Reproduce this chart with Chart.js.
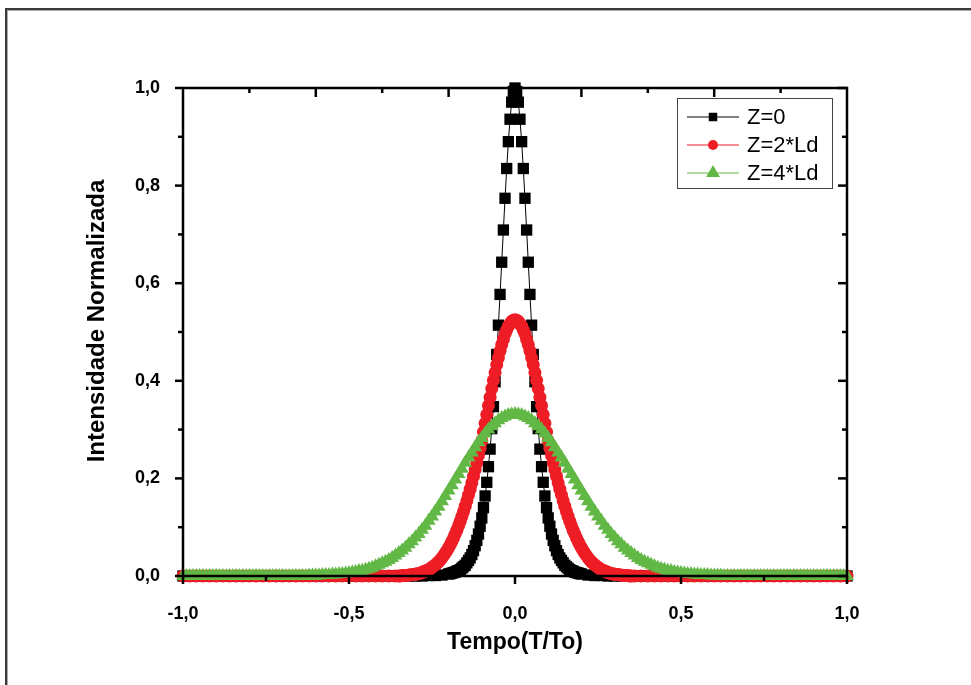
<!DOCTYPE html>
<html lang="pt">
<head>
  <meta charset="UTF-8">
  <title>Alargamento do pulso</title>
  <script src="https://cdn.jsdelivr.net/npm/chart.js"></script>
  <style>
    body { margin: 0; background: #fff; overflow: hidden; }
    #quadro { position: relative; width: 971px; height: 685px; }
    #moldura { position: absolute; left: 5px; top: 8px; width: 1000px; height: 700px;
               border-left: 2px solid #3a3a3a; border-top: 2px solid #3a3a3a;
               box-shadow: inset 1px 1px 0 #aaa; pointer-events: none; }
    canvas { position: absolute; left: 0; top: 0; }
  </style>
</head>
<body>
  <div id="quadro">
    <canvas id="grafico" width="971" height="685"></canvas>
    <div id="moldura"></div>
  </div>

  <script>
    // Z = 0 (pulso de entrada)
    const tempoZ0 = [
      -1.00,-0.98,-0.96,-0.94,-0.92,-0.90,-0.88,-0.86,-0.84,-0.82,
      -0.80,-0.78,-0.76,-0.74,-0.72,-0.70,-0.68,-0.66,-0.64,-0.62,
      -0.60,-0.58,-0.56,-0.54,-0.52,-0.50,-0.48,-0.46,-0.44,-0.42,
      -0.40,-0.38,-0.36,-0.34,-0.32,-0.30,-0.28,-0.26,-0.24,-0.22,
      -0.200,-0.195,-0.190,-0.185,-0.180,-0.175,-0.170,-0.165,-0.160,-0.155,
      -0.150,-0.145,-0.140,-0.135,-0.130,-0.125,-0.120,-0.115,-0.110,-0.105,
      -0.100,-0.095,-0.090,-0.085,-0.080,-0.075,-0.070,-0.065,-0.060,-0.055,
      -0.050,-0.045,-0.040,-0.035,-0.030,-0.025,-0.020,-0.015,-0.010,-0.005,
      0,
      0.005,0.010,0.015,0.020,0.025,0.030,0.035,0.040,0.045,0.050,
      0.055,0.060,0.065,0.070,0.075,0.080,0.085,0.090,0.095,0.100,
      0.105,0.110,0.115,0.120,0.125,0.130,0.135,0.140,0.145,0.150,
      0.155,0.160,0.165,0.170,0.175,0.180,0.185,0.190,0.195,0.200,
      0.22,0.24,0.26,0.28,0.30,0.32,0.34,0.36,0.38,0.40,
      0.42,0.44,0.46,0.48,0.50,0.52,0.54,0.56,0.58,0.60,
      0.62,0.64,0.66,0.68,0.70,0.72,0.74,0.76,0.78,0.80,
      0.82,0.84,0.86,0.88,0.90,0.92,0.94,0.96,0.98,1.00
    ];
    const intensZ0 = [
      0,0,0,0,0,0,0,0,0,0,
      0,0,0,0,0,0,0,0,0,0,
      0,0,0,0,0,0,0,0,0,0,
      0,0,0,0,0,0,0,0.001,0.001,0.002,
      0.004,0.005,0.006,0.007,0.008,0.010,0.011,0.013,0.016,0.019,
      0.022,0.027,0.032,0.037,0.044,0.052,0.062,0.073,0.086,0.102,
      0.119,0.140,0.164,0.192,0.224,0.260,0.302,0.347,0.398,0.454,
      0.514,0.577,0.643,0.709,0.774,0.835,0.890,0.936,0.971,0.993,
      1.000,
      0.993,0.971,0.936,0.890,0.835,0.774,0.709,0.643,0.577,0.514,
      0.454,0.398,0.347,0.302,0.260,0.224,0.192,0.164,0.140,0.119,
      0.102,0.086,0.073,0.062,0.052,0.044,0.037,0.032,0.027,0.022,
      0.019,0.016,0.013,0.011,0.010,0.008,0.007,0.006,0.005,0.004,
      0.002,0.001,0.001,0,0,0,0,0,0,0,
      0,0,0,0,0,0,0,0,0,0,
      0,0,0,0,0,0,0,0,0,0,
      0,0,0,0,0,0,0,0,0,0
    ];

    // Z = 2*Ld
    const tempoZ2 = [
      -1.00,-0.98,-0.96,-0.94,-0.92,-0.90,-0.88,-0.86,-0.84,-0.82,
      -0.80,-0.78,-0.76,-0.74,-0.72,-0.70,-0.68,-0.66,-0.64,-0.62,
      -0.60,-0.58,-0.56,-0.54,-0.52,-0.50,-0.48,-0.46,-0.44,-0.42,
      -0.40,-0.38,-0.36,
      -0.350,-0.345,-0.340,-0.335,-0.330,-0.325,-0.320,-0.315,-0.310,-0.305,
      -0.300,-0.295,-0.290,-0.285,-0.280,-0.275,-0.270,-0.265,-0.260,-0.255,
      -0.250,-0.245,-0.240,-0.235,-0.230,-0.225,-0.220,-0.215,-0.210,-0.205,
      -0.200,-0.195,-0.190,-0.185,-0.180,-0.175,-0.170,-0.165,-0.160,-0.155,
      -0.150,-0.145,-0.140,-0.135,-0.130,-0.125,-0.120,-0.115,-0.110,-0.105,
      -0.100,-0.095,-0.090,-0.085,-0.080,-0.075,-0.070,-0.065,-0.060,-0.055,
      -0.050,-0.045,-0.040,-0.035,-0.030,-0.025,-0.020,-0.015,-0.010,-0.005,
      0,
      0.005,0.010,0.015,0.020,0.025,0.030,0.035,0.040,0.045,0.050,
      0.055,0.060,0.065,0.070,0.075,0.080,0.085,0.090,0.095,0.100,
      0.105,0.110,0.115,0.120,0.125,0.130,0.135,0.140,0.145,0.150,
      0.155,0.160,0.165,0.170,0.175,0.180,0.185,0.190,0.195,0.200,
      0.205,0.210,0.215,0.220,0.225,0.230,0.235,0.240,0.245,0.250,
      0.255,0.260,0.265,0.270,0.275,0.280,0.285,0.290,0.295,0.300,
      0.305,0.310,0.315,0.320,0.325,0.330,0.335,0.340,0.345,0.350,
      0.36,0.38,0.40,
      0.42,0.44,0.46,0.48,0.50,0.52,0.54,0.56,0.58,0.60,
      0.62,0.64,0.66,0.68,0.70,0.72,0.74,0.76,0.78,0.80,
      0.82,0.84,0.86,0.88,0.90,0.92,0.94,0.96,0.98,1.00
    ];
    const intensZ2 = [
      0,0,0,0,0,0,0,0,0,0,
      0,0,0,0,0,0,0,0,0,0,
      0,0,0,0,0,0,0,0,0,0,
      0,0,0,
      0,0,0.001,0.001,0.001,0.001,0.002,0.002,0.003,0.003,
      0.004,0.004,0.005,0.006,0.007,0.009,0.010,0.012,0.013,0.015,
      0.018,0.020,0.023,0.026,0.029,0.033,0.037,0.042,0.047,0.052,
      0.058,0.064,0.071,0.078,0.086,0.094,0.103,0.112,0.122,0.132,
      0.143,0.154,0.166,0.178,0.191,0.204,0.218,0.232,0.247,0.262,
      0.277,0.295,0.313,0.331,0.349,0.366,0.384,0.401,0.417,0.433,
      0.447,0.461,0.474,0.485,0.496,0.504,0.512,0.517,0.522,0.524,
      0.525,
      0.524,0.522,0.517,0.512,0.504,0.496,0.485,0.474,0.461,0.447,
      0.433,0.417,0.401,0.384,0.366,0.349,0.331,0.313,0.295,0.277,
      0.262,0.247,0.232,0.218,0.204,0.191,0.178,0.166,0.154,0.143,
      0.132,0.122,0.112,0.103,0.094,0.086,0.078,0.071,0.064,0.058,
      0.052,0.047,0.042,0.037,0.033,0.029,0.026,0.023,0.020,0.018,
      0.015,0.013,0.012,0.010,0.009,0.007,0.006,0.005,0.004,0.004,
      0.003,0.003,0.002,0.002,0.001,0.001,0.001,0.001,0,0,
      0,0,0,
      0,0,0,0,0,0,0,0,0,0,
      0,0,0,0,0,0,0,0,0,0,
      0,0,0,0,0,0,0,0,0,0
    ];

    // Z = 4*Ld
    const tempoZ4 = [
      -1.00,-0.99,-0.98,-0.97,-0.96,-0.95,-0.94,-0.93,-0.92,-0.91,
      -0.90,-0.89,-0.88,-0.87,-0.86,-0.85,-0.84,-0.83,-0.82,-0.81,
      -0.80,-0.79,-0.78,-0.77,-0.76,-0.75,-0.74,-0.73,-0.72,-0.71,
      -0.70,-0.69,-0.68,-0.67,-0.66,-0.65,-0.64,-0.63,-0.62,-0.61,
      -0.60,-0.59,-0.58,-0.57,-0.56,-0.55,-0.54,-0.53,-0.52,-0.51,
      -0.50,-0.49,-0.48,-0.47,-0.46,-0.45,-0.44,-0.43,-0.42,-0.41,
      -0.40,-0.39,-0.38,-0.37,-0.36,-0.35,-0.34,-0.33,-0.32,-0.31,
      -0.30,-0.29,-0.28,-0.27,-0.26,-0.25,-0.24,-0.23,-0.22,-0.21,
      -0.20,-0.19,-0.18,-0.17,-0.16,-0.15,-0.14,-0.13,-0.12,-0.11,
      -0.10,-0.09,-0.08,-0.07,-0.06,-0.05,-0.04,-0.03,-0.02,-0.01,
      0,
      0.01,0.02,0.03,0.04,0.05,0.06,0.07,0.08,0.09,0.10,
      0.11,0.12,0.13,0.14,0.15,0.16,0.17,0.18,0.19,0.20,
      0.21,0.22,0.23,0.24,0.25,0.26,0.27,0.28,0.29,0.30,
      0.31,0.32,0.33,0.34,0.35,0.36,0.37,0.38,0.39,0.40,
      0.41,0.42,0.43,0.44,0.45,0.46,0.47,0.48,0.49,0.50,
      0.51,0.52,0.53,0.54,0.55,0.56,0.57,0.58,0.59,0.60,
      0.61,0.62,0.63,0.64,0.65,0.66,0.67,0.68,0.69,0.70,
      0.71,0.72,0.73,0.74,0.75,0.76,0.77,0.78,0.79,0.80,
      0.81,0.82,0.83,0.84,0.85,0.86,0.87,0.88,0.89,0.90,
      0.91,0.92,0.93,0.94,0.95,0.96,0.97,0.98,0.99,1.00
    ];
    const intensZ4 = [
      0,0,0,0,0,0,0,0,0,0,
      0,0,0,0,0,0,0,0,0,0,
      0,0,0,0,0,0,0,0,0,0,
      0,0,0,0,0,0,0,0,0.001,0.001,
      0.001,0.001,0.002,0.002,0.002,0.003,0.003,0.004,0.004,0.005,
      0.006,0.007,0.008,0.010,0.011,0.013,0.015,0.017,0.020,0.023,
      0.026,0.029,0.033,0.037,0.042,0.047,0.052,0.058,0.065,0.071,
      0.079,0.086,0.095,0.103,0.113,0.122,0.132,0.142,0.153,0.164,
      0.175,0.186,0.198,0.209,0.220,0.232,0.243,0.253,0.264,0.274,
      0.283,0.292,0.300,0.307,0.313,0.319,0.324,0.327,0.330,0.331,
      0.332,
      0.331,0.330,0.327,0.324,0.319,0.313,0.307,0.300,0.292,0.283,
      0.274,0.264,0.253,0.243,0.232,0.220,0.209,0.198,0.186,0.175,
      0.164,0.153,0.142,0.132,0.122,0.113,0.103,0.095,0.086,0.079,
      0.071,0.065,0.058,0.052,0.047,0.042,0.037,0.033,0.029,0.026,
      0.023,0.020,0.017,0.015,0.013,0.011,0.010,0.008,0.007,0.006,
      0.005,0.004,0.004,0.003,0.003,0.002,0.002,0.002,0.001,0.001,
      0.001,0.001,0,0,0,0,0,0,0,0,
      0,0,0,0,0,0,0,0,0,0,
      0,0,0,0,0,0,0,0,0,0,
      0,0,0,0,0,0,0,0,0,0
    ];

    const rotulos = ['Z=0', 'Z=2*Ld', 'Z=4*Ld'];

    // marcas dos eixos
    const marcasX = [-1, -0.5, 0, 0.5, 1];
    const marcasXMenor = [-0.75, -0.25, 0.25, 0.75];
    const marcasTopo = [-0.6, -0.2, 0.2, 0.6];
    const marcasTopoMenor = [-0.8, -0.4, 0, 0.4, 0.8];
    const marcasY = [0, 0.2, 0.4, 0.6, 0.8, 1];
    const marcasYMenor = [0.1, 0.3, 0.5, 0.7, 0.9];

    const FONTE = "'Liberation Sans', Arial, sans-serif";
    const pares = (t, v) => t.map((x, i) => ({ x: x, y: v[i] }));
    const virgula = v => Number(v).toFixed(1).replace('.', ',');

    // caixa, marcas, titulos e legenda no estilo do Origin
    const estiloOrigin = {
      id: 'estiloOrigin',
      afterDatasetsDraw(chart) {
        const { ctx, chartArea: a, scales: { x, y } } = chart;
        ctx.save();
        ctx.strokeStyle = '#000';
        ctx.lineWidth = 2.5;
        ctx.strokeRect(a.left, a.top, a.right - a.left, a.bottom - a.top);
        const risco = (px, py, dx, dy) => {
          ctx.beginPath(); ctx.moveTo(px, py); ctx.lineTo(px + dx, py + dy); ctx.stroke();
        };
        marcasX.forEach(v => risco(x.getPixelForValue(v), a.bottom, 0, 8));
        marcasXMenor.forEach(v => risco(x.getPixelForValue(v), a.bottom, 0, 5));
        marcasTopo.forEach(v => risco(x.getPixelForValue(v), a.top, 0, 9));
        marcasTopoMenor.forEach(v => risco(x.getPixelForValue(v), a.top, 0, 5));
        marcasY.forEach(v => risco(a.left, y.getPixelForValue(v), -8, 0));
        marcasYMenor.forEach(v => risco(a.left, y.getPixelForValue(v), -5, 0));
        marcasY.forEach(v => risco(a.right, y.getPixelForValue(v), -9, 0));
        marcasYMenor.forEach(v => risco(a.right, y.getPixelForValue(v), -5, 0));
        ctx.restore();
      },
      afterDraw(chart) {
        const { ctx, chartArea: a } = chart;
        ctx.save();
        ctx.fillStyle = '#000';
        ctx.textAlign = 'center';
        ctx.textBaseline = 'middle';
        ctx.font = 'bold 23px ' + FONTE;
        ctx.fillText('Tempo(T/To)', (a.left + a.right) / 2, 643);
        ctx.font = 'bold 24px ' + FONTE;
        ctx.translate(97, (a.top + a.bottom) / 2 - 11);
        ctx.rotate(-Math.PI / 2);
        ctx.fillText('Intensidade Normalizada', 0, 0);
        ctx.restore();

        // legenda
        const bx = a.right - 170, by = a.top + 10, bw = 155, bh = 90;
        ctx.save();
        ctx.fillStyle = '#fff';
        ctx.fillRect(bx, by, bw, bh);
        ctx.strokeStyle = '#444';
        ctx.lineWidth = 1;
        ctx.strokeRect(bx + 0.5, by + 0.5, bw, bh);
        ctx.font = '22px ' + FONTE;
        ctx.textAlign = 'left';
        ctx.textBaseline = 'middle';
        chart.data.datasets.forEach((ds, i) => {
          const ly = by + 19 + i * 28;
          ctx.strokeStyle = ds.borderColor;
          ctx.lineWidth = 1;
          ctx.beginPath(); ctx.moveTo(bx + 10, ly); ctx.lineTo(bx + 62, ly); ctx.stroke();
          ctx.fillStyle = ds.pointBackgroundColor;
          Chart.helpers.drawPoint(ctx, { pointStyle: ds.pointStyle, radius: ds.raioLegenda, rotation: 0, borderWidth: 0 }, bx + 36, ly);
          ctx.fillStyle = '#000';
          ctx.fillText(ds.label, bx + 70, ly + 1);
        });
        ctx.restore();
      }
    };

    new Chart(document.getElementById('grafico'), {
      type: 'line',
      data: {
        datasets: [
          { label: rotulos[0], data: pares(tempoZ0, intensZ0), order: 2, raioLegenda: 6,
            borderColor: '#000', pointBackgroundColor: '#000', pointStyle: 'rect', pointRadius: 8 },
          { label: rotulos[1], data: pares(tempoZ2, intensZ2), order: 1, raioLegenda: 5,
            borderColor: '#ee1d25', pointBackgroundColor: '#ee1d25', pointStyle: 'circle', pointRadius: 6.5 },
          { label: rotulos[2], data: pares(tempoZ4, intensZ4), order: 0, raioLegenda: 8,
            borderColor: '#62b845', pointBackgroundColor: '#62b845', pointStyle: 'triangle', pointRadius: 8 }
        ].map(ds => Object.assign(ds, {
          borderWidth: 1, pointBorderWidth: 0, pointHoverRadius: ds.pointRadius,
          tension: 0, clip: false, fill: false
        }))
      },
      options: {
        responsive: false,
        animation: false,
        events: [],
        layout: { padding: { top: 88, right: 124, left: 0, bottom: 0 } },
        plugins: { legend: { display: false }, tooltip: { enabled: false } },
        scales: {
          x: {
            type: 'linear', min: -1, max: 1,
            afterFit: s => { s.height = 109; },
            grid: { display: false }, border: { display: false },
            ticks: { stepSize: 0.5, padding: 19, maxRotation: 0, color: '#000',
                     font: { family: FONTE, size: 18, weight: 'bold' }, callback: virgula }
          },
          y: {
            min: 0, max: 1,
            afterFit: s => { s.width = 183; },
            grid: { display: false }, border: { display: false },
            ticks: { stepSize: 0.2, padding: 15, color: '#000',
                     font: { family: FONTE, size: 18, weight: 'bold' }, callback: virgula }
          }
        }
      },
      plugins: [estiloOrigin]
    });
  </script>
</body>
</html>
